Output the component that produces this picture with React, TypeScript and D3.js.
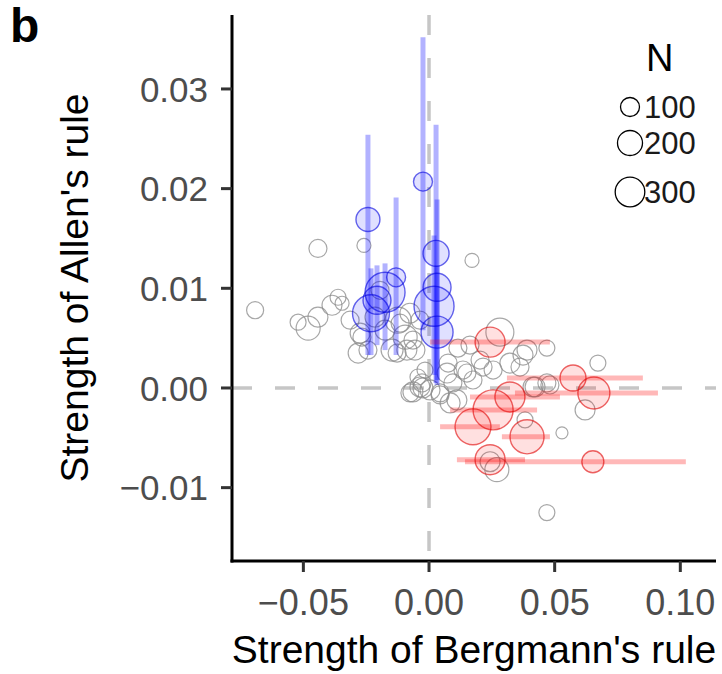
import React from "react";
import * as d3 from "d3";

// ---------- data ----------
const xTicks = [-0.05, 0, 0.05, 0.1];
const yTicks = [-0.01, 0, 0.01, 0.02, 0.03];
const legendN = [100, 200, 300];

// non-significant species (grey open circles)
const grayPoints = [
  { x: -0.0692, y: 0.0078, n: 75 },
  { x: -0.0442, y: 0.014, n: 87 },
  { x: -0.0521, y: 0.0066, n: 63 },
  { x: -0.0481, y: 0.006, n: 181 },
  { x: -0.0442, y: 0.0071, n: 114 },
  { x: -0.0386, y: 0.0083, n: 114 },
  { x: -0.0362, y: 0.0091, n: 63 },
  { x: -0.0346, y: 0.0085, n: 43 },
  { x: -0.0259, y: 0.0143, n: 43 },
  { x: -0.0274, y: 0.0055, n: 114 },
  { x: -0.0282, y: 0.0035, n: 114 },
  { x: -0.0267, y: 0.0051, n: 87 },
  { x: -0.0215, y: 0.0071, n: 114 },
  { x: -0.0123, y: 0.0068, n: 220 },
  { x: -0.0095, y: 0.0051, n: 181 },
  { x: -0.0243, y: 0.0038, n: 87 },
  { x: -0.0147, y: 0.0038, n: 146 },
  { x: -0.0056, y: 0.0038, n: 114 },
  { x: -0.0044, y: 0.0011, n: 63 },
  { x: -0.0028, y: 0.0005, n: 87 },
  { x: 0.0076, y: 0.0025, n: 87 },
  { x: 0.0171, y: 0.0128, n: 43 },
  { x: 0.0282, y: 0.0056, n: 262 },
  { x: 0.0469, y: 0.004, n: 63 },
  { x: 0.0672, y: 0.0025, n: 63 },
  { x: 0.0469, y: 0.0005, n: 87 },
  { x: 0.0621, y: -0.0022, n: 114 },
  { x: 0.0529, y: -0.0045, n: 27 },
  { x: 0.0469, y: -0.0125, n: 63 },
  { x: 0.0115, y: 0.004, n: 87 },
  { x: 0.0374, y: 0.0033, n: 114 },
  { x: 0.0362, y: 0.0021, n: 87 },
  { x: 0.0203, y: 0.0028, n: 87 },
  { x: 0.0135, y: 0.0018, n: 87 },
  { x: 0.0072, y: 0.0015, n: 114 },
  { x: -0.0036, y: 0.0001, n: 114 },
  { x: 0.0004, y: -0.0002, n: 114 },
  { x: 0.0044, y: -0.0005, n: 87 },
  { x: 0.0095, y: 0.0005, n: 87 },
  { x: 0.0111, y: -0.0012, n: 114 },
  { x: 0.0175, y: 0.0008, n: 87 },
  { x: 0.0255, y: 0.0018, n: 87 },
  { x: 0.0414, y: 0.0001, n: 114 },
  { x: -0.0076, y: -0.0005, n: 87 },
  { x: 0.027, y: -0.0082, n: 181 },
  { x: 0.0243, y: -0.0074, n: 114 },
  { x: -0.0127, y: 0.0035, n: 87 },
  { x: -0.0064, y: 0.0048, n: 87 },
  { x: -0.0115, y: 0.0065, n: 87 },
  { x: 0.039, y: 0.0038, n: 114 },
  { x: 0.0422, y: 0.0001, n: 114 },
  { x: 0.0481, y: 0.0003, n: 87 },
  { x: 0.0382, y: -0.0032, n: 63 },
  { x: -0.0088, y: 0.0038, n: 114 },
  { x: -0.0064, y: -0.0004, n: 114 },
  { x: -0.0024, y: 0.0, n: 114 },
  { x: 0.0151, y: 0.0015, n: 87 },
  { x: 0.0215, y: 0.0021, n: 87 },
  { x: 0.0322, y: 0.0025, n: 114 },
  { x: 0.0084, y: -0.0015, n: 114 },
  { x: 0.0044, y: -0.0007, n: 87 },
  { x: -0.0195, y: 0.0098, n: 87 },
  { x: -0.0314, y: 0.0068, n: 87 },
  { x: -0.0175, y: 0.0058, n: 114 },
  { x: -0.0076, y: 0.0075, n: 114 },
  { x: -0.0036, y: 0.0068, n: 87 },
  { x: -0.0016, y: 0.0018, n: 63 },
  { x: 0.0163, y: 0.0043, n: 87 },
];

// species with significant Allen's rule (blue, vertical CI)
const bluePoints = [
  { x: -0.0243, y: 0.0169, n: 180, lo: 0.0033, hi: 0.0254 },
  { x: -0.0131, y: 0.0111, n: 100, lo: 0.0033, hi: 0.0191 },
  { x: -0.0024, y: 0.0207, n: 100, lo: 0.0058, hi: 0.0352 },
  { x: 0.0028, y: 0.0135, n: 220, lo: 0.0005, hi: 0.0264 },
  { x: 0.0032, y: 0.0101, n: 262, lo: 0.0008, hi: 0.0189 },
  { x: 0.002, y: 0.0082, n: 600, lo: 0.0013, hi: 0.0153 },
  { x: 0.0032, y: 0.0056, n: 360, lo: 0.0003, hi: 0.0123 },
  { x: -0.0231, y: 0.0075, n: 500, lo: 0.0033, hi: 0.012 },
  { x: -0.0175, y: 0.0096, n: 600, lo: 0.0038, hi: 0.0125 },
  { x: -0.0207, y: 0.0088, n: 262, lo: 0.0043, hi: 0.0123 },
];

// species with significant Bergmann's rule (red, horizontal CI)
const redPoints = [
  { x: 0.0243, y: 0.0046, n: 310, lo: 0.0004, hi: 0.0481 },
  { x: 0.0573, y: 0.001, n: 220, lo: 0.031, hi: 0.0851 },
  { x: 0.0656, y: -0.0005, n: 360, lo: 0.0342, hi: 0.0911 },
  { x: 0.0322, y: -0.0009, n: 310, lo: 0.0163, hi: 0.0521 },
  { x: 0.0255, y: -0.0022, n: 600, lo: 0.0084, hi: 0.043 },
  { x: 0.0175, y: -0.0039, n: 470, lo: 0.0044, hi: 0.0282 },
  { x: 0.039, y: -0.0049, n: 415, lo: 0.029, hi: 0.0481 },
  { x: 0.0243, y: -0.0072, n: 310, lo: 0.0111, hi: 0.0382 },
  { x: 0.0652, y: -0.0074, n: 146, lo: 0.0143, hi: 0.1022 },
];

// ---------- layout ----------
const W = 722;
const H = 674;
const left = 232;
const right = 716;
const top = 15;
const bottom = 561;

const FONT = "'Liberation Sans', Arial, Helvetica, sans-serif";

export default function App() {
  const x = d3.scaleLinear().domain([-0.0784, 0.1142]).range([left, right]);
  const y = d3.scaleLinear().domain([-0.01736, 0.03742]).range([bottom, top]);
  const r = d3.scaleSqrt().domain([0, 400]).range([2.25, 16.75]);
  const fmt = d3.format(".2f");

  return (
    <svg
      width={W}
      height={H}
      style={{ position: "absolute", left: 0, top: 0, background: "#fff" }}
      fontFamily={FONT}
    >
      {/* reference dashed lines */}
      <line x1={left} x2={right} y1={y(0)} y2={y(0)} stroke="#c6c6c6" strokeWidth={3.5} strokeDasharray="20 23" />
      <line x1={x(0)} x2={x(0)} y1={top} y2={bottom} stroke="#c6c6c6" strokeWidth={3.5} strokeDasharray="20 23" />

      {/* grey points */}
      {grayPoints.map((d, i) => (
        <circle key={"g" + i} cx={x(d.x)} cy={y(d.y)} r={r(d.n)} fill="none" stroke="#8a8a8a" strokeOpacity={0.75} strokeWidth={1.2} />
      ))}

      {/* blue CIs */}
      {bluePoints.map((d, i) => (
        <line key={"bl" + i} x1={x(d.x)} x2={x(d.x)} y1={y(d.lo)} y2={y(d.hi)} stroke="#0000ff" strokeOpacity={0.3} strokeWidth={5} />
      ))}
      {/* red CIs */}
      {redPoints.map((d, i) => (
        <line key={"rl" + i} x1={x(d.lo)} x2={x(d.hi)} y1={y(d.y)} y2={y(d.y)} stroke="#ff0000" strokeOpacity={0.28} strokeWidth={5} />
      ))}

      {bluePoints.map((d, i) => (
        <circle key={"b" + i} cx={x(d.x)} cy={y(d.y)} r={r(d.n)} fill="#0000ff" fillOpacity={0.12} stroke="#0000dd" strokeOpacity={0.6} strokeWidth={1.4} />
      ))}
      {redPoints.map((d, i) => (
        <circle key={"r" + i} cx={x(d.x)} cy={y(d.y)} r={r(d.n)} fill="#ff0000" fillOpacity={0.12} stroke="#e00000" strokeOpacity={0.6} strokeWidth={1.4} />
      ))}

      {/* axes */}
      <line x1={left} x2={left} y1={top} y2={bottom + 1.5} stroke="#000" strokeWidth={3} />
      <line x1={left - 1.5} x2={right} y1={bottom} y2={bottom} stroke="#000" strokeWidth={3} />

      {yTicks.map((t) => (
        <g key={"yt" + t}>
          <line x1={left - 11} x2={left} y1={y(t)} y2={y(t)} stroke="#333" strokeWidth={3} />
          <text x={left - 24} y={y(t)} dy="0.36em" textAnchor="end" fontSize={35} fill="#4d4d4d">
            {fmt(t)}
          </text>
        </g>
      ))}
      {xTicks.map((t) => (
        <g key={"xt" + t}>
          <line x1={x(t)} x2={x(t)} y1={bottom} y2={bottom + 11} stroke="#333" strokeWidth={3} />
          <text x={x(t)} y={615} textAnchor="middle" fontSize={36} fill="#4d4d4d">
            {fmt(t)}
          </text>
        </g>
      ))}

      {/* axis titles */}
      <text x={(left + right) / 2} y={663} textAnchor="middle" fontSize={39} fill="#000">
        Strength of Bergmann's rule
      </text>
      <text
        transform={`translate(88, ${(top + bottom) / 2}) rotate(-90)`}
        textAnchor="middle"
        fontSize={39}
        fill="#000"
      >
        Strength of Allen's rule
      </text>

      {/* panel tag */}
      <text x={10} y={42} fontSize={48} fontWeight="bold" fill="#000">
        b
      </text>

      {/* legend */}
      <text x={646} y={71} fontSize={38} fill="#000">
        N
      </text>
      {legendN.map((n, i) => {
        const cy = [107, 143, 192][i];
        return (
          <g key={"lg" + n}>
            <circle cx={630} cy={cy} r={r(n)} fill="none" stroke="#000" strokeWidth={1.3} />
            <text x={644} y={cy} dy="0.36em" fontSize={31} fill="#1a1a1a">
              {n}
            </text>
          </g>
        );
      })}
    </svg>
  );
}
